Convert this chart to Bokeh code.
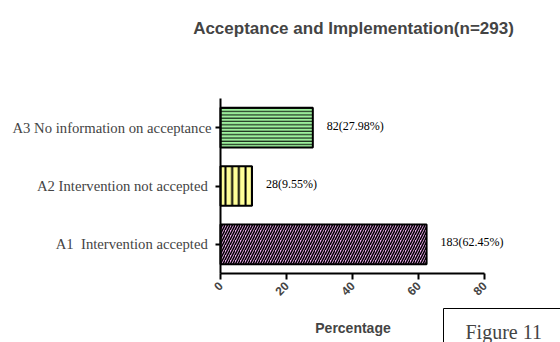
from bokeh.plotting import figure
from bokeh.models import Range1d, FixedTicker, Label, LabelSet, ColumnDataSource
from bokeh.embed import file_html
from bokeh.resources import INLINE
import math

# --- data -------------------------------------------------------------
categories = [
    "A1\u00a0 Intervention accepted\u00a0",
    "A2 Intervention not accepted\u00a0",
    "A3 No information on acceptance",
]
counts = [183, 28, 82]
percentages = [62.45, 9.55, 27.98]
x_ticks = [0, 20, 40, 60, 80]

# --- styles -----------------------------------------------------------
fills = ["#eeaaee", "#ffff99", "#9cf09c"]
hatches = ["/", "|", "-"]
hatch_scales = [5.0, 6.7, 3.3]
hatch_weights = [1.5, 2.0, 1.0]

SERIF = "Liberation Serif"
SANS = "Liberation Sans"

# canvas size and the pixel box that holds the bars and axes
W, H = 560, 342
AX0, AX1, AY0, AY1 = 220, 484, 98, 273
XB = (0, 80)        # x-axis extent
YB = (0.5, 3.5)     # y-axis extent

# the plotting frame fills the whole canvas; the axes sit at fixed places
sx = (XB[1] - XB[0]) / (AX1 - AX0)
sy = (YB[1] - YB[0]) / (AY1 - AY0)
x_range = Range1d(XB[0] - AX0 * sx, XB[1] + (W - AX1) * sx)
y_range = Range1d(YB[0] - (H - AY1) * sy, YB[1] + AY0 * sy)


def px_x(px):
    return XB[0] + (px - AX0) * sx


def px_y(py):
    return YB[0] + (AY1 - py) * sy


p = figure(width=W, height=H, output_backend="svg", toolbar_location=None,
           x_range=x_range, y_range=y_range, min_border=0)
p.outline_line_color = None
p.grid.visible = False
p.background_fill_color = "white"
p.border_fill_color = "white"

ypos = list(range(1, len(categories) + 1))

for i, (yv, val) in enumerate(zip(ypos, percentages)):
    p.hbar(y=[yv], right=[val], left=0, height=0.68,
           fill_color=fills[i], line_color="black", line_width=2,
           hatch_pattern=hatches[i], hatch_color="black",
           hatch_scale=hatch_scales[i], hatch_weight=hatch_weights[i])

# value labels beside each bar
labels_src = ColumnDataSource(dict(
    x=percentages, y=ypos,
    text=[f"{c}({v:.2f}%)" for c, v in zip(counts, percentages)],
))
p.add_layout(LabelSet(x="x", y="y", text="text", source=labels_src,
                      x_offset=14, y_offset=2, text_baseline="middle",
                      text_font=SERIF, text_font_size="12px", text_color="black"))

# x axis
xa = p.xaxis[0]
xa.fixed_location = YB[0]
xa.bounds = XB
xa.ticker = FixedTicker(ticks=x_ticks)
xa.minor_tick_line_color = None
xa.axis_line_width = 2
xa.major_tick_line_width = 2
xa.major_tick_out = 6
xa.major_tick_in = 0
xa.major_label_orientation = math.pi / 4
xa.major_label_text_font = SANS
xa.major_label_text_font_style = "bold"
xa.major_label_text_font_size = "12px"
xa.major_label_standoff = 4

# y axis with category names
ya = p.yaxis[0]
ya.fixed_location = XB[0]
ya.bounds = YB
ya.ticker = FixedTicker(ticks=ypos)
ya.major_label_overrides = {y: c for y, c in zip(ypos, categories)}
ya.minor_tick_line_color = None
ya.axis_line_width = 2
ya.major_tick_line_width = 2
ya.major_tick_out = 5
ya.major_tick_in = 0
ya.major_label_text_font = SERIF
ya.major_label_text_font_size = "14.7px"
ya.major_label_standoff = 4

# title and axis caption
p.add_layout(Label(x=px_x(353), y=px_y(28), text="Acceptance and Implementation(n=293)",
                   text_align="center", text_baseline="middle",
                   text_font=SANS, text_font_style="bold", text_font_size="17px"))
p.add_layout(Label(x=px_x(352.5), y=px_y(327), text="Percentage",
                   text_align="center", text_baseline="middle",
                   text_font=SANS, text_font_style="bold", text_font_size="14px"))

# framed figure caption in the lower right corner
p.add_layout(Label(x=px_x(443), y=px_y(308), text="Figure 11",
                   text_align="left", text_baseline="top",
                   text_font=SERIF, text_font_size="20px",
                   border_line_color="black", border_line_width=1,
                   background_fill_color="white",
                   padding=(22, 40, 12, 20)))

open("out.html", "w").write(file_html(p, INLINE))
